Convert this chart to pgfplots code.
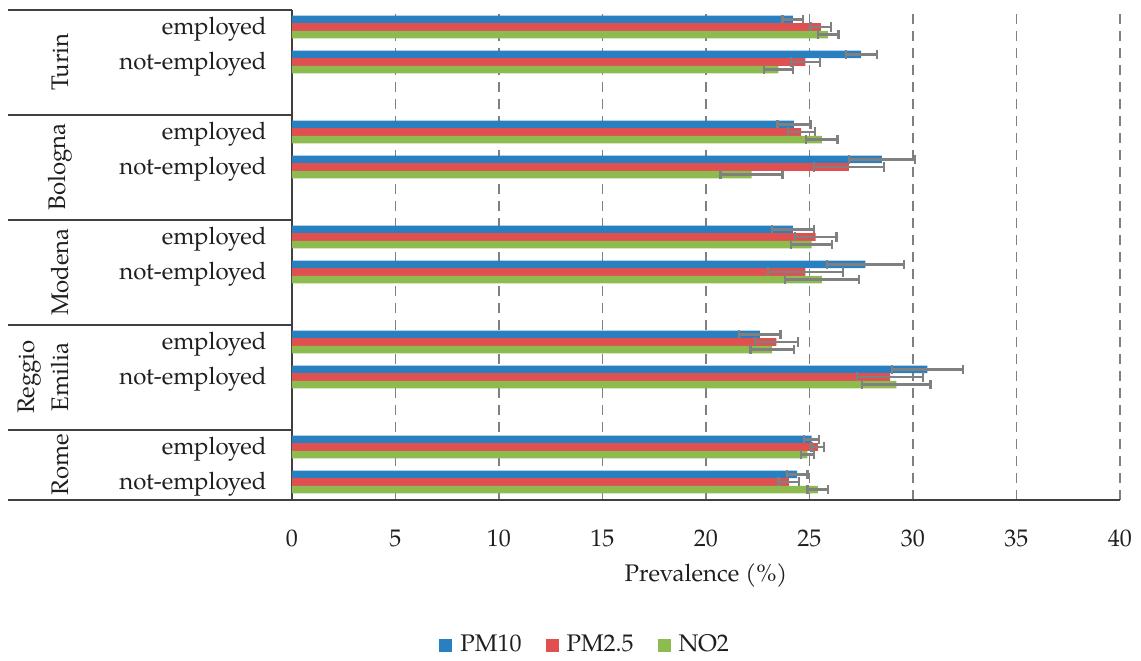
\documentclass[border=0pt]{standalone}
\usepackage{fontspec}
\setmainfont{TeX Gyre Pagella}
\usepackage{pgfplots}
\pgfplotsset{compat=1.18}

\definecolor{cPM10}{RGB}{41,128,193}
\definecolor{cPM25}{RGB}{224,80,80}
\definecolor{cNO2}{RGB}{141,187,79}
\definecolor{axisgray}{RGB}{64,64,64}
\definecolor{errgray}{RGB}{128,128,128}
\definecolor{gridgray}{RGB}{128,128,128}

\begin{document}
\fontsize{12}{14}\selectfont
\begin{tikzpicture}
\path[use as bounding box] (-146pt,-80.25pt) rectangle (424.5pt,249.75pt);
\begin{axis}[
  at={(0,0)}, anchor=south west,
  scale only axis, width=414pt, height=245pt,
  xbar, bar width=0.215,
  xmin=0, xmax=40, ymin=-0.5, ymax=13.5,
  xtick={0,5,...,40},
  ytick={0,1,3,4,6,7,9,10,12,13},
  yticklabels={not-employed,employed,not-employed,employed,not-employed,employed,not-employed,employed,not-employed,employed},
  major tick length=0pt,
  xmajorgrids,
  grid style={gridgray, line width=0.9pt, dash pattern=on 5pt off 3.5pt},
  axis x line*=bottom, axis y line*=left,
  axis line style={axisgray, line width=1pt, -},
  tick label style={font=\fontsize{12}{14}\selectfont, text=black!88},
  /pgf/number format/assume math mode=true,
  xticklabel style={yshift=-11pt},
  yticklabel style={xshift=-8.5pt, yshift=-1.2pt},
  xlabel={Prevalence (\%)},
  xlabel style={at={(axis description cs:0.5,-0.156)}, anchor=center,
    font=\fontsize{12}{14}\selectfont, text=black!88},
  clip=false,
  error bars/x dir=both, error bars/x explicit,
  error bars/error mark=|,
  error bars/error bar style={errgray, line width=1.1pt},
  error bars/error mark options={errgray, mark size=2.3pt, line width=1.1pt},
  legend columns=3,
  legend style={at={(axis description cs:0.354,-0.297)}, anchor=center,
    draw=none, font=\fontsize{12}{14}\selectfont, text=black!88,
    nodes={inner xsep=1pt},
    /tikz/every odd column/.append style={column sep=3pt},
    /tikz/every even column/.append style={column sep=11pt}},
  legend image code/.code={\fill[#1] (0pt,-3.25pt) rectangle (6.5pt,3.25pt);},
]
% PM10
\addplot[fill=cPM10, draw=none, bar shift=0.215] coordinates {
  (24.2,13) +- (0.5,0)
  (27.5,12) +- (0.75,0)
  (24.25,10) +- (0.8,0)
  (28.5,9) +- (1.6,0)
  (24.2,7) +- (1.0,0)
  (27.7,6) +- (1.85,0)
  (22.6,4) +- (1.0,0)
  (30.7,3) +- (1.7,0)
  (25.1,1) +- (0.35,0)
  (24.4,0) +- (0.5,0)
};
% PM2.5
\addplot[fill=cPM25, draw=none, bar shift=0] coordinates {
  (25.55,13) +- (0.5,0)
  (24.8,12) +- (0.7,0)
  (24.6,10) +- (0.65,0)
  (26.9,9) +- (1.7,0)
  (25.3,7) +- (1.0,0)
  (24.8,6) +- (1.8,0)
  (23.4,4) +- (1.05,0)
  (28.9,3) +- (1.6,0)
  (25.4,1) +- (0.3,0)
  (24.0,0) +- (0.5,0)
};
% NO2
\addplot[fill=cNO2, draw=none, bar shift=-0.215] coordinates {
  (25.9,13) +- (0.5,0)
  (23.5,12) +- (0.7,0)
  (25.6,10) +- (0.75,0)
  (22.2,9) +- (1.5,0)
  (25.1,7) +- (1.0,0)
  (25.6,6) +- (1.8,0)
  (23.2,4) +- (1.05,0)
  (29.2,3) +- (1.65,0)
  (24.9,1) +- (0.3,0)
  (25.4,0) +- (0.5,0)
};
\legend{PM10,PM2.5,NO2}

% city separators in the left-hand column
\draw[axisgray, line width=1pt] ([xshift=-142pt]axis cs:0,13.5) -- (axis cs:0,13.5);
\draw[axisgray, line width=1pt] ([xshift=-142pt]axis cs:0,10.5) -- (axis cs:0,10.5);
\draw[axisgray, line width=1pt] ([xshift=-142pt]axis cs:0,7.5) -- (axis cs:0,7.5);
\draw[axisgray, line width=1pt] ([xshift=-142pt]axis cs:0,4.5) -- (axis cs:0,4.5);
\draw[axisgray, line width=1pt] ([xshift=-142pt]axis cs:0,1.5) -- (axis cs:0,1.5);
\draw[axisgray, line width=1pt] ([xshift=-142pt]axis cs:0,-0.5) -- (axis cs:0,-0.5);
% city names
\node[rotate=90, text=black!88] at ([xshift=-116pt]axis cs:0,12) {Turin};
\node[rotate=90, text=black!88] at ([xshift=-116pt]axis cs:0,9) {Bologna};
\node[rotate=90, text=black!88] at ([xshift=-116pt]axis cs:0,6) {Modena};
\node[rotate=90, text=black!88] at ([xshift=-131pt]axis cs:0,3) {Reggio};
\node[rotate=90, text=black!88] at ([xshift=-116pt]axis cs:0,3) {Emilia};
\node[rotate=90, text=black!88] at ([xshift=-116pt]axis cs:0,0.5) {Rome};
\end{axis}
\end{tikzpicture}
\end{document}
